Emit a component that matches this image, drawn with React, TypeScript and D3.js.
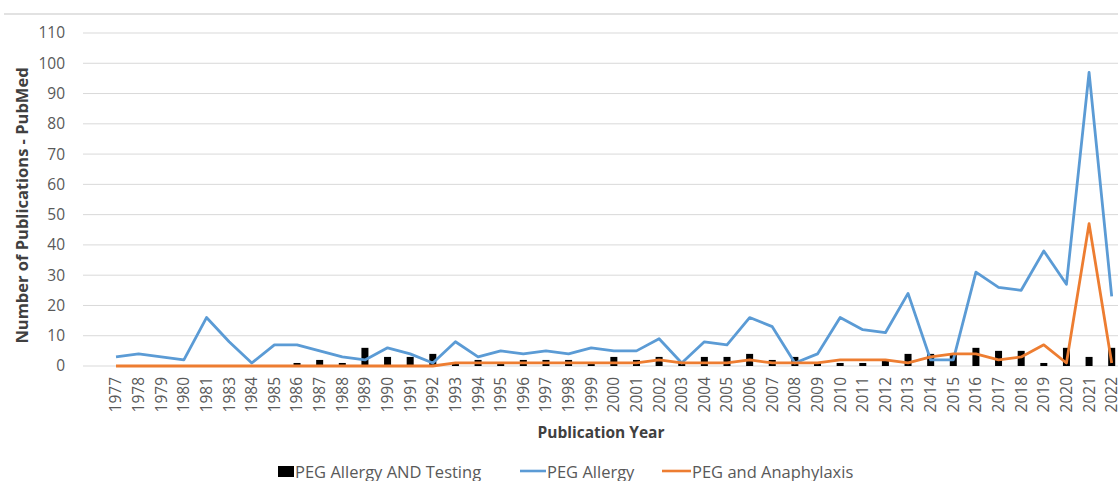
import React from "react";
import * as d3 from "d3";

const years: string[] = [
  "1977","1978","1979","1980","1981","1983","1984","1985","1986","1987","1988","1989","1990","1991","1992",
  "1993","1994","1995","1996","1997","1998","1999","2000","2001","2002","2003","2004","2005","2006","2007",
  "2008","2009","2010","2011","2012","2013","2014","2015","2016","2017","2018","2019","2020","2021","2022",
];

const pegAllergyTesting: number[] = [
  0,0,0,0,0,0,0,0,1,2,1,6,3,3,4,
  1,2,1,2,2,2,1,3,2,3,1,3,3,4,2,
  3,1,1,1,2,4,4,4,6,5,5,1,6,3,6,
];

const pegAllergy: number[] = [
  3,4,3,2,16,8,1,7,7,5,3,2,6,4,1,
  8,3,5,4,5,4,6,5,5,9,1,8,7,16,13,
  1,4,16,12,11,24,2,2,31,26,25,38,27,97,23,
];

const pegAnaphylaxis: number[] = [
  0,0,0,0,0,0,0,0,0,0,0,0,0,0,0,
  1,1,1,1,1,1,1,1,1,2,1,1,1,2,1,
  1,1,2,2,2,1,3,4,4,2,3,7,1,47,1,
];

const yTicks: number[] = [0,10,20,30,40,50,60,70,80,90,100,110];

const seriesNames = ["PEG Allergy AND Testing", "PEG Allergy", "PEG and Anaphylaxis"];

const W = 1118;
const H = 481;
const FONT = "'Open Sans', sans-serif";
const TEXT = "#595959";
const BLUE = "#5B9BD5";
const ORANGE = "#ED7D31";

export default function App() {
  const plotLeft = 83;
  const plotRight = 1135;
  const y = d3.scaleLinear().domain([0, 110]).range([366, 33]);
  const x = d3.scalePoint<string>().domain(years).range([116, 1111.7]);
  const barW = 7;

  const line = d3
    .line<number>()
    .x((_, i) => x(years[i]) as number)
    .y((d) => y(d));

  return (
    <svg
      width={W}
      height={H}
      style={{ position: "absolute", left: 0, top: 0, background: "#fff" }}
      fontFamily={FONT}
    >
      <line x1={4} x2={W} y1={14} y2={14} stroke="#d9d9d9" strokeWidth={1.5} />
      {yTicks.map((t) => (
        <g key={t}>
          <line x1={plotLeft} x2={plotRight} y1={y(t)} y2={y(t)} stroke="#d9d9d9" strokeWidth={1} />
          <text x={65} y={y(t)} dy="0.35em" textAnchor="end" fontSize={15.5} fill={TEXT}>
            {t}
          </text>
        </g>
      ))}
      <text
        transform={`translate(22,${y(55) + 6}) rotate(-90)`}
        textAnchor="middle"
        fontSize={16.5}
        fontWeight="bold"
        fill="#404040"
        dy="0.35em"
      >
        Number of Publications - PubMed
      </text>

      {pegAllergyTesting.map((v, i) => (
        <rect
          key={years[i]}
          x={(x(years[i]) as number) - barW / 2}
          y={y(v)}
          width={barW}
          height={y(0) - y(v)}
          fill="#000"
        />
      ))}
      <path d={line(pegAllergy) || ""} fill="none" stroke={BLUE} strokeWidth={2.8} strokeLinejoin="round" />
      <path d={line(pegAnaphylaxis) || ""} fill="none" stroke={ORANGE} strokeWidth={2.8} strokeLinejoin="round" />

      {years.map((yr) => (
        <text
          key={yr}
          transform={`translate(${x(yr)},377) rotate(-90)`}
          textAnchor="end"
          dy="0.35em"
          fontSize={15.5}
          fill={TEXT}
        >
          {yr}
        </text>
      ))}
      <text x={601} y={438} textAnchor="middle" fontSize={15.5} fontWeight="bold" fill="#404040">
        Publication Year
      </text>

      <g fontSize={16.5} fill={TEXT}>
        <rect x={278} y={466} width={16} height={11} fill="#000" />
        <text x={295} y={478}>{seriesNames[0]}</text>
        <line x1={520} x2={546} y1={471} y2={471} stroke={BLUE} strokeWidth={2.6} />
        <text x={547} y={478}>{seriesNames[1]}</text>
        <line x1={662} x2={691} y1={471} y2={471} stroke={ORANGE} strokeWidth={2.6} />
        <text x={692} y={478}>{seriesNames[2]}</text>
      </g>
    </svg>
  );
}
